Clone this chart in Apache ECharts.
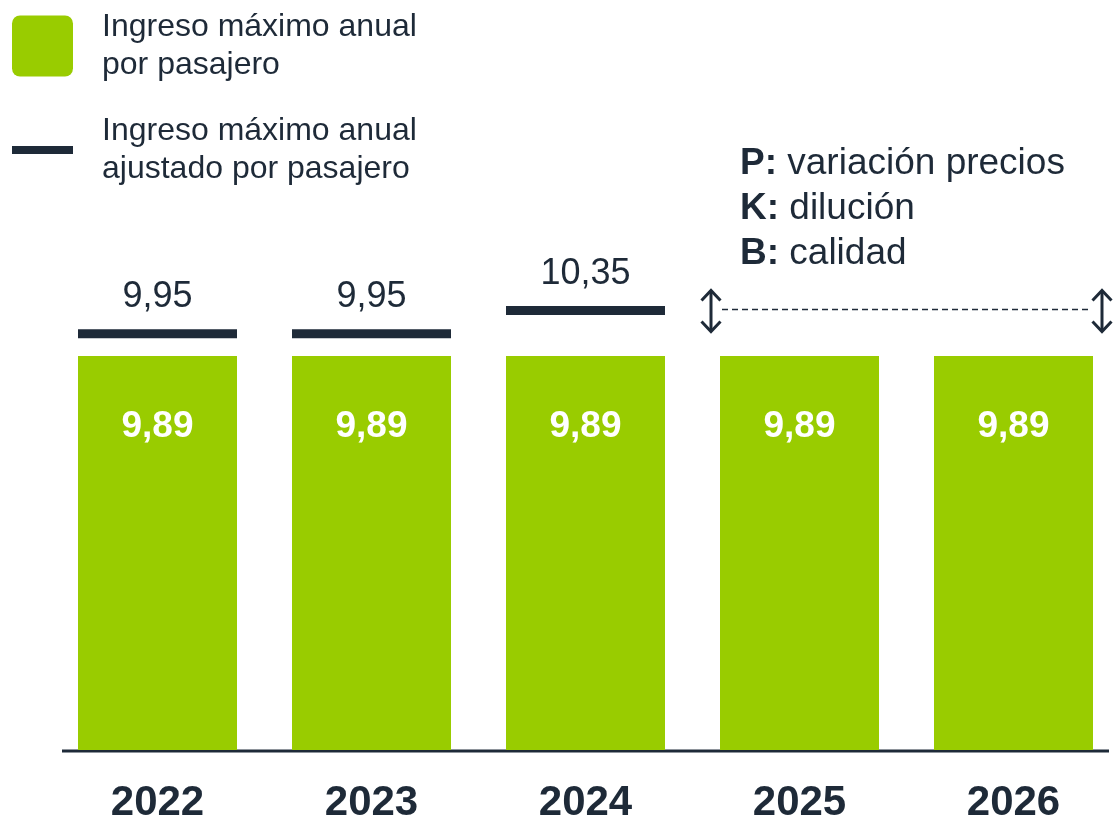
<!DOCTYPE html>
<html>
<head>
<meta charset="utf-8">
<script src="https://cdn.jsdelivr.net/npm/echarts@6/dist/echarts.min.js"></script>
<style>
  html, body { margin: 0; padding: 0; background: #fff; }
  #main { width: 1115px; height: 818px; }
</style>
</head>
<body>
<div id="main"></div>
<script>
// datos
var years = ['2022', '2023', '2024', '2025', '2026']
var ingresoMax = [9.89, 9.89, 9.89, 9.89, 9.89]
var ingresoAjustado = [9.95, 9.95, 10.35, null, null]
var notas = [['P:', 'variación precios'], ['K:', 'dilución'], ['B:', 'calidad']]

var nombreBarra = 'Ingreso máximo anual\npor pasajero'
var nombreLinea = 'Ingreso máximo anual\najustado por pasajero'

var verde = '#99cc00'
var oscuro = '#1e2a38'
var fuente = 'Liberation Sans, Arial, sans-serif'
var anchoBarra = 159

function fmt(v) {
  return String(v.toFixed(2)).replace('.', ',')
}

var myChart = echarts.init(document.getElementById('main'))

var option = {
  animation: false,
  textStyle: { fontFamily: fuente, color: oscuro },
  legend: [
    {
      data: [nombreBarra],
      left: 12,
      top: 8,
      padding: 0,
      orient: 'vertical',
      itemWidth: 61,
      itemHeight: 61,
      icon: 'path://M8,0H53A8,8,0,0,1,61,8V53A8,8,0,0,1,53,61H8A8,8,0,0,1,0,53V8A8,8,0,0,1,8,0Z',
      selectedMode: false,
      textStyle: { fontSize: 32, lineHeight: 38, color: oscuro, fontFamily: fuente, padding: [0, 0, 0, 24] }
    },
    {
      data: [nombreLinea],
      left: 12,
      top: 112,
      padding: 0,
      orient: 'vertical',
      itemWidth: 61,
      itemHeight: 8,
      icon: 'rect',
      selectedMode: false,
      itemStyle: { color: oscuro },
      textStyle: { fontSize: 32, lineHeight: 38, color: oscuro, fontFamily: fuente, padding: [0, 0, 0, 24] }
    }
  ],
  grid: { left: 50.5, width: 1070, top: 100, bottom: 68, outerBoundsMode: 'none', containLabel: false },
  xAxis: {
    type: 'category',
    data: years,
    axisLine: { show: false },
    axisTick: { show: false },
    axisLabel: { fontSize: 42, fontWeight: 'bold', color: oscuro, margin: 32, fontFamily: fuente }
  },
  yAxis: [
    { type: 'value', min: 0, max: 16.316, show: false },
    { type: 'value', min: 2.805, max: 13.964, show: false }
  ],
  series: [
    {
      name: nombreBarra,
      type: 'bar',
      data: ingresoMax,
      barWidth: anchoBarra,
      itemStyle: { color: verde },
      label: {
        show: true,
        position: 'insideTop',
        distance: 52,
        color: '#fff',
        fontSize: 37,
        fontWeight: 'bold',
        fontFamily: fuente,
        formatter: function (p) { return fmt(p.value) }
      }
    },
    {
      name: nombreLinea,
      type: 'scatter',
      yAxisIndex: 1,
      data: ingresoAjustado,
      symbol: 'rect',
      symbolSize: [anchoBarra, 9],
      itemStyle: { color: oscuro, opacity: 1 },
      label: {
        show: true,
        position: 'top',
        distance: 14,
        color: oscuro,
        fontSize: 36,
        fontFamily: fuente,
        formatter: function (p) { return fmt(p.value[1] != null ? p.value[1] : p.value) }
      }
    }
  ]
}

myChart.setOption(option)

// anotaciones: línea base, flechas y texto P/K/B
var c3 = myChart.convertToPixel({ xAxisIndex: 0 }, 3)
var c4 = myChart.convertToPixel({ xAxisIndex: 0 }, 4)
var c0 = myChart.convertToPixel({ xAxisIndex: 0 }, 0)
var yNivel = myChart.convertToPixel({ yAxisIndex: 1 }, ingresoAjustado[2])
var yBase = myChart.convertToPixel({ yAxisIndex: 0 }, 0)
var xa = c3 - anchoBarra / 2 - 9
var xb = c4 + anchoBarra / 2 + 9

function flecha(x, y) {
  return [
    { type: 'line', shape: { x1: x, y1: y - 19, x2: x, y2: y + 20 }, style: { stroke: oscuro, lineWidth: 3 } },
    { type: 'polyline', shape: { points: [[x - 9.5, y - 10], [x, y - 20], [x + 9.5, y - 10]] }, style: { stroke: oscuro, lineWidth: 3, fill: null } },
    { type: 'polyline', shape: { points: [[x - 9.5, y + 11], [x, y + 21], [x + 9.5, y + 11]] }, style: { stroke: oscuro, lineWidth: 3, fill: null } }
  ]
}

var richTxt = notas.map(function (n) { return '{b|' + n[0] + '} ' + n[1] }).join('\n')

var graficos = [
  { type: 'line', shape: { x1: c0 - anchoBarra / 2 - 16, y1: yBase + 1, x2: c4 + anchoBarra / 2 + 16, y2: yBase + 1 }, style: { stroke: oscuro, lineWidth: 3 } },
  { type: 'line', shape: { x1: xa + 11, y1: yNivel - 1, x2: xb - 11, y2: yNivel - 1 }, style: { stroke: oscuro, lineWidth: 1.5, lineDash: [6, 4] } },
  {
    type: 'text',
    left: 740,
    top: 141,
    style: {
      text: richTxt,
      fontSize: 37,
      lineHeight: 45,
      fill: oscuro,
      fontFamily: fuente,
      rich: { b: { fontWeight: 'bold', fontSize: 37, lineHeight: 45, fill: oscuro, fontFamily: fuente } }
    }
  }
].concat(flecha(xa, yNivel), flecha(xb, yNivel))

myChart.setOption({ graphic: graficos })
</script>
</body>
</html>
